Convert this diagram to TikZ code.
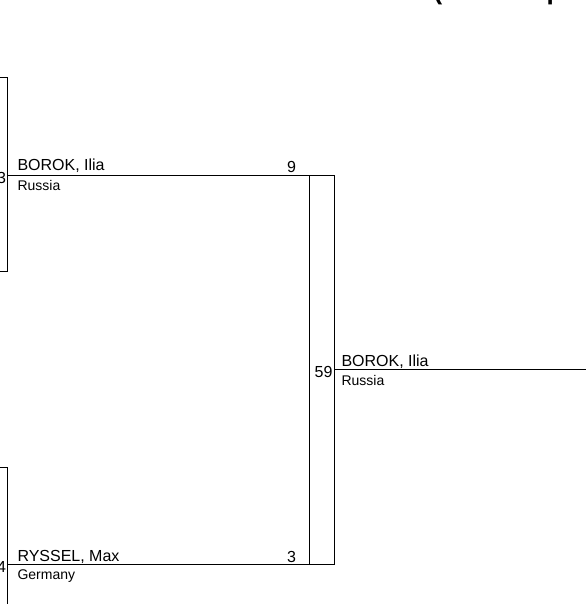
\documentclass[tikz,border=0pt]{standalone}
\usepackage{fontspec}
\setmainfont{Liberation Sans}
\begin{document}
\begin{tikzpicture}[x=1pt,y=-1pt,line width=1pt,
  pname/.style={anchor=base west,inner sep=0pt,font=\fontsize{16}{16}\selectfont},
  pcountry/.style={anchor=base west,inner sep=0pt,font=\fontsize{14}{14}\selectfont},
  pscore/.style={anchor=base east,inner sep=0pt,font=\fontsize{16}{16}\selectfont},
  ptitle/.style={anchor=base west,inner sep=0pt,font=\fontsize{26}{26}\selectfont\bfseries},
  bline/.style={draw=black,line width=1pt}]
\useasboundingbox (0,0) rectangle (586,604);
% title (cut off at top)
\node[ptitle] (t1) at (433,-0.8) {(};
\node[ptitle] (t2) at (546,-0.8) {p};
% coordinates
\coordinate (a1) at (0,77.5);
\coordinate (a2) at (7.5,77.5);
\coordinate (a3) at (7.5,271.5);
\coordinate (a4) at (0,271.5);
\coordinate (b1) at (0,467.5);
\coordinate (b2) at (7.5,467.5);
\coordinate (b3) at (7.5,606);
\coordinate (u1) at (7.5,175.5);
\coordinate (u2) at (309.5,175.5);
\coordinate (u3) at (334.5,175.5);
\coordinate (l1) at (7.5,564.5);
\coordinate (l2) at (309.5,564.5);
\coordinate (l3) at (334.5,564.5);
\coordinate (f1) at (334.5,369.5);
\coordinate (f2) at (586,369.5);
% lines
\draw[bline] (a1) -- (a2) -- (a3) -- (a4);
\draw[bline] (b1) -- (b2) -- (b3);
\draw[bline] (u1) -- (u3);
\draw[bline] (l1) -- (l3);
\draw[bline] (u2) -- (l2);
\draw[bline] (u3) -- (l3);
\draw[bline] (f1) -- (f2);
% texts
\node[pscore] (s1) at (6.5,183) {3};
\node[pscore] (s2) at (6.5,572) {4};
\node[pname] (n1) at (17,171) {BOROK, Ilia};
\node[pcountry] (c1) at (17,190) {Russia};
\node[pscore] (s3) at (296.5,172) {9};
\node[pname] (n2) at (17,561) {RYSSEL, Max};
\node[pcountry] (c2) at (17,579) {Germany};
\node[pscore] (s4) at (296.5,562) {3};
\node[pscore] (s5) at (333,377) {59};
\node[pname] (n3) at (341,366) {BOROK, Ilia};
\node[pcountry] (c3) at (341,385) {Russia};
\end{tikzpicture}
\end{document}
